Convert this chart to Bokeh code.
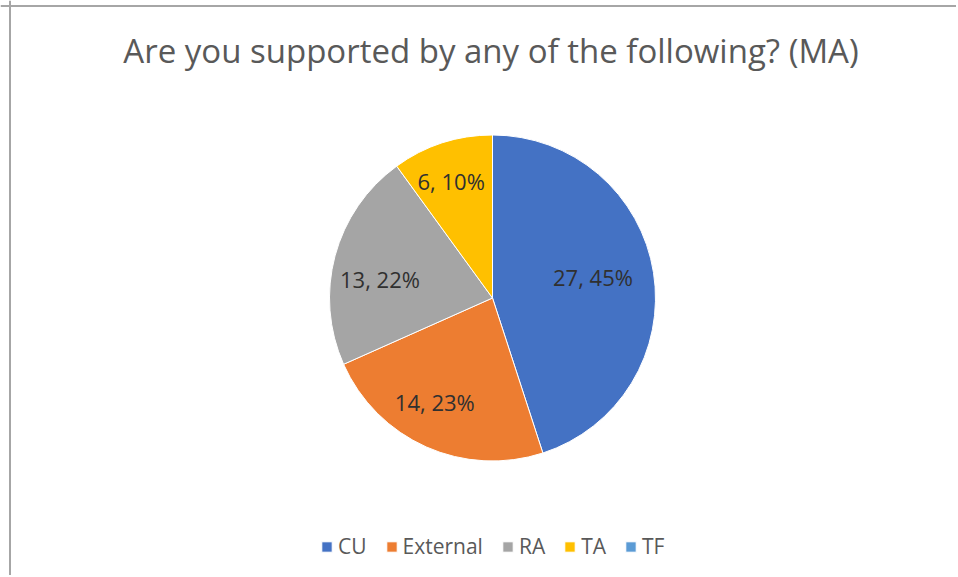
import numpy as np
from bokeh.plotting import figure
from bokeh.models import ColumnDataSource, Legend, LegendItem, Span
from bokeh.embed import file_html
from bokeh.resources import INLINE
from bokeh.core.properties import value

# ---- data ----
categories = ["CU", "External", "RA", "TA", "TF"]
counts = [27, 14, 13, 6, 0]
colors = ["#4472C4", "#ED7D31", "#A5A5A5", "#FFC000", "#5B9BD5"]
title_text = "Are you supported by any of the following? (MA)"

# ---- layout (pixels; data units == screen pixels) ----
W, H = 956, 575
cx, cy, r = 492, H - 297.5, 163
label_frac = [0.63, 0.73, 0.70, 0.76, 0.7]
label_dang = [3.0, -5.0, 5.5, 1.5, 0.0]   # degrees, label placement tweak
FONT = "Open Sans"

vals = np.array(counts, dtype=float)
total = vals.sum()
frac = vals / total
cum = np.concatenate([[0], np.cumsum(frac)])
start = np.pi / 2 - 2 * np.pi * cum[:-1]
end = np.pi / 2 - 2 * np.pi * cum[1:]
mid = (start + end) / 2 + np.radians(label_dang)
pct = [f"{c}, {round(f*100):.0f}%" for c, f in zip(counts, frac)]
lx = cx + r * np.array(label_frac) * np.cos(mid)
ly = cy + r * np.array(label_frac) * np.sin(mid)

nz = [i for i, c in enumerate(counts) if c > 0]
wedge_src = ColumnDataSource(dict(start=start, end=end, color=colors,
                                  rad=[r if c > 0 else 0 for c in counts]))
lab_src = ColumnDataSource(dict(lab=[pct[i] for i in nz], lx=lx[nz], ly=ly[nz]))

p = figure(width=W, height=H, x_range=(0, W), y_range=(0, H),
           output_backend="svg", toolbar_location=None, min_border=0)
p.axis.visible = False
p.grid.visible = False
p.outline_line_color = None
p.background_fill_color = "white"
p.border_fill_color = "white"

# chart border (top and left visible in the cropped reference)
p.add_layout(Span(location=H - 5.5, dimension="width", line_color="#A6A6A6", line_width=2))
p.add_layout(Span(location=9.5, dimension="height", line_color="#A6A6A6", line_width=2))

wr = p.wedge(x=cx, y=cy, radius="rad", start_angle="start", end_angle="end",
             direction="clock", fill_color="color", line_color="white",
             line_width=1, source=wedge_src)

p.text(x="lx", y="ly", text="lab", source=lab_src, text_align="center",
       text_baseline="middle", text_font=value(FONT), text_font_size="22px",
       text_color="#303030")

p.text(x=[490.5], y=[H - 50], text=[title_text], text_align="center",
       text_baseline="alphabetic", text_font=value(FONT), text_font_size="33px",
       text_color="#595959")

legend = Legend(items=[LegendItem(label=c, renderers=[wr], index=i)
                       for i, c in enumerate(categories)],
                orientation="horizontal", location=(320, 15),
                label_text_font=FONT, label_text_font_size="21px",
                label_text_color="#595959", glyph_width=13, glyph_height=13,
                label_standoff=5, spacing=18, padding=0, margin=0,
                border_line_color=None, background_fill_alpha=0)
p.add_layout(legend, "center")

open("out.html", "w").write(file_html(p, INLINE))
